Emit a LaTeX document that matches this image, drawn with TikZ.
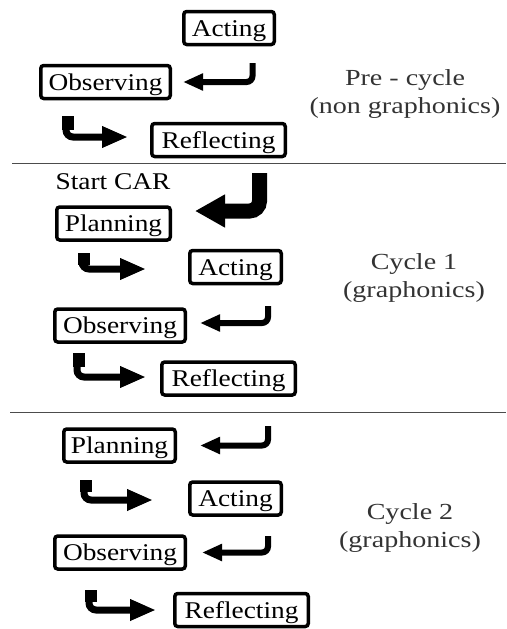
\documentclass[tikz,border=0pt]{standalone}
\usepackage{fontspec}
\setmainfont{Liberation Serif}
\newfontfamily\boxfont[FakeStretch=1.14]{Liberation Serif}
\newfontfamily\labfont[FakeStretch=1.22]{Liberation Serif}
\usetikzlibrary{arrows.meta,calc}

\begin{document}
\begin{tikzpicture}[x=1pt, y=-1pt,
    stage/.style={draw, line width=3.5pt, rounded corners=3pt, inner sep=0pt,
        minimum height=33pt, text height=21pt, text depth=5pt,
        font=\boxfont\fontsize{24}{28}\selectfont},
    back/.style={line width=6pt, rounded corners=6pt, -{Triangle[length=20pt,width=16pt]}},
    hook/.style={line width=7pt, rounded corners=7pt, -{Triangle[length=26pt,width=20pt]}},
    stem/.style={line width=12pt},
    cyc/.style={align=center, text=black!80, font=\labfont\fontsize{23}{28}\selectfont}]
    \useasboundingbox (0,0) rectangle (506,629);

    % Pre-cycle
    \node[stage, minimum width=90.5pt] (act1) at (229,28) {Acting};
    \node[stage, minimum width=129.5pt] (obs1) at (105.5,82) {Observing};
    \node[stage, minimum width=133.5pt] (ref1) at (218.5,140) {Reflecting};
    \coordinate (r1) at (252.5,63);
    \coordinate (h1) at (66,116);
    \draw[back] (r1) |- ([xshift=11pt]obs1.east);
    \draw[stem] ([xshift=1.5pt]h1) -- ++(0,14);
    \draw[hook] (h1) |- ([xshift=-22pt,yshift=3pt]ref1.west);
    \node[cyc] (pre) at (405,94) {Pre - cycle\\(non graphonics)};
    \draw[line width=1pt, black!70] (12,163) -- (506,163);

    % Cycle 1
    \node[font=\boxfont\fontsize{24}{28}\selectfont] (car) at (113,182) {Start CAR};
    \node[stage, minimum width=113.5pt] (plan2) at (113.5,223.5) {Planning};
    \node[stage, minimum width=91.5pt] (act2) at (235.5,267) {Acting};
    \node[stage, minimum width=130.5pt] (obs2) at (120,325.5) {Observing};
    \node[stage, minimum width=133.5pt] (ref2) at (228.5,378.5) {Reflecting};
    \coordinate (s2) at (259.5,173);
    \coordinate (h2a) at (82,253);
    \coordinate (r2) at (268,306);
    \coordinate (h2b) at (77,353);
    \draw[line width=15pt, rounded corners=10pt, -{Triangle[length=30pt,width=31pt]}]
        (s2) |- ([xshift=23pt,yshift=12.5pt]plan2.east);
    \draw[stem] ([xshift=1.5pt]h2a) -- ++(0,12);
    \draw[hook] (h2a) |- ([xshift=-42pt,yshift=-2pt]act2.west);
    \draw[back] (r2) |- ([xshift=13pt,yshift=2.5pt]obs2.east);
    \draw[stem] ([xshift=1.5pt]h2b) -- ++(0,14);
    \draw[hook] (h2b) |- ([xshift=-14pt,yshift=1.5pt]ref2.west);
    \node[cyc] (c1) at (414,278) {Cycle 1\\(graphonics)};
    \draw[line width=1pt, black!70] (10,412) -- (506,412);

    % Cycle 2
    \node[stage, minimum width=111.5pt] (plan3) at (119.5,445.5) {Planning};
    \node[stage, minimum width=91.5pt] (act3) at (235.5,498.5) {Acting};
    \node[stage, minimum width=130.5pt] (obs3) at (120,552.5) {Observing};
    \node[stage, minimum width=133.5pt] (ref3) at (241.5,610) {Reflecting};
    \coordinate (r3a) at (268,426);
    \coordinate (h3a) at (84,480);
    \coordinate (r3b) at (268,536);
    \coordinate (h3b) at (89,590);
    \draw[back] (r3a) |- ([xshift=23pt]plan3.east);
    \draw[stem] ([xshift=1.5pt]h3a) -- ++(0,12);
    \draw[hook] (h3a) |- ([xshift=-35pt,yshift=-1.5pt]act3.west);
    \draw[back] (r3b) |- ([xshift=15pt]obs3.east);
    \draw[stem] ([xshift=1.5pt]h3b) -- ++(0,12);
    \draw[hook] (h3b) |- ([xshift=-17pt]ref3.west);
    \node[cyc] (c2) at (410,528) {Cycle 2\\(graphonics)};
\end{tikzpicture}
\end{document}
